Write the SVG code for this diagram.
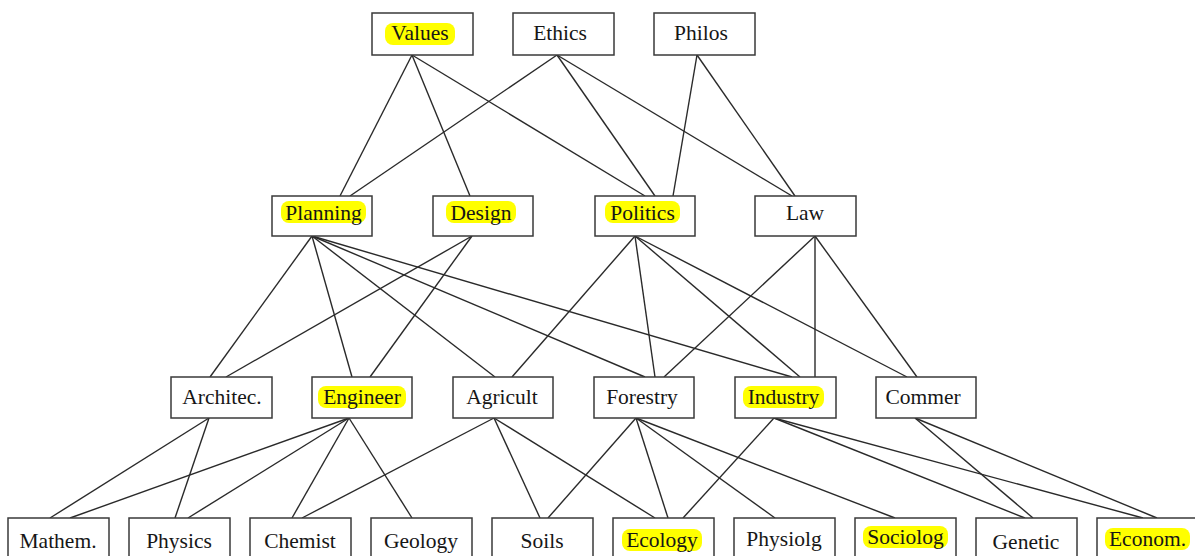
<svg xmlns="http://www.w3.org/2000/svg" width="1195" height="556" viewBox="0 0 1195 556">
<style>
.bg{fill:#ffffff}
.box{fill:#ffffff;stroke:#3a3a3a;stroke-width:1.5}
.hl{fill:#ffff00}
.lbl{font-family:"Liberation Serif","Times New Roman",serif;font-size:21.5px;fill:#161616;text-anchor:middle}
.edges line{stroke:#2a2a2a;stroke-width:1.4}
</style>
<rect class="bg" x="0" y="0" width="1195" height="556"/>
<g id="connectors" class="edges">
<line x1="412" y1="55" x2="340" y2="196"/>
<line x1="412" y1="55" x2="470" y2="196"/>
<line x1="412" y1="55" x2="645" y2="196"/>
<line x1="557" y1="55" x2="350" y2="196"/>
<line x1="557" y1="55" x2="655" y2="196"/>
<line x1="557" y1="55" x2="792" y2="196"/>
<line x1="697" y1="55" x2="673" y2="196"/>
<line x1="697" y1="55" x2="795" y2="196"/>
<line x1="312" y1="236" x2="210" y2="377"/>
<line x1="312" y1="236" x2="352" y2="377"/>
<line x1="312" y1="236" x2="495" y2="377"/>
<line x1="312" y1="236" x2="645" y2="377"/>
<line x1="312" y1="236" x2="792" y2="377"/>
<line x1="472" y1="236" x2="226" y2="377"/>
<line x1="472" y1="236" x2="370" y2="377"/>
<line x1="635" y1="236" x2="512" y2="377"/>
<line x1="635" y1="236" x2="655" y2="377"/>
<line x1="635" y1="236" x2="800" y2="377"/>
<line x1="635" y1="236" x2="907" y2="377"/>
<line x1="815" y1="236" x2="664" y2="377"/>
<line x1="815" y1="236" x2="815" y2="377"/>
<line x1="815" y1="236" x2="917" y2="377"/>
<line x1="209" y1="418" x2="50" y2="518"/>
<line x1="209" y1="418" x2="175" y2="518"/>
<line x1="349" y1="418" x2="70" y2="518"/>
<line x1="349" y1="418" x2="188" y2="518"/>
<line x1="349" y1="418" x2="292" y2="518"/>
<line x1="349" y1="418" x2="412" y2="518"/>
<line x1="494" y1="418" x2="302" y2="518"/>
<line x1="494" y1="418" x2="540" y2="518"/>
<line x1="494" y1="418" x2="655" y2="518"/>
<line x1="636" y1="418" x2="548" y2="518"/>
<line x1="636" y1="418" x2="668" y2="518"/>
<line x1="636" y1="418" x2="775" y2="518"/>
<line x1="636" y1="418" x2="895" y2="518"/>
<line x1="774" y1="418" x2="683" y2="518"/>
<line x1="774" y1="418" x2="1025" y2="518"/>
<line x1="774" y1="418" x2="1143" y2="518"/>
<line x1="915" y1="418" x2="1033" y2="518"/>
<line x1="915" y1="418" x2="1157" y2="518"/>
</g>
<g id="values"><rect class="box" x="372" y="13" width="101" height="42"/><rect class="hl" x="385" y="23" width="70" height="22" rx="8"/><text class="lbl" x="420" y="40">Values</text></g>
<g id="ethics"><rect class="box" x="513" y="13" width="101" height="42"/><text class="lbl" x="560" y="40">Ethics</text></g>
<g id="philos"><rect class="box" x="654" y="13" width="101" height="42"/><text class="lbl" x="701" y="40">Philos</text></g>

<g id="planning"><rect class="box" x="272" y="196" width="100" height="40"/><rect class="hl" x="281" y="201" width="85" height="22" rx="8"/><text class="lbl" x="323.5" y="220">Planning</text></g>
<g id="design"><rect class="box" x="433" y="196" width="100" height="40"/><rect class="hl" x="446" y="201" width="70" height="22" rx="8"/><text class="lbl" x="481" y="220">Design</text></g>
<g id="politics"><rect class="box" x="595" y="196" width="100" height="40"/><rect class="hl" x="605" y="201" width="75" height="22" rx="8"/><text class="lbl" x="642.5" y="220">Politics</text></g>
<g id="law"><rect class="box" x="755" y="196" width="101" height="40"/><text class="lbl" x="805" y="220">Law</text></g>

<g id="architec"><rect class="box" x="171" y="377" width="101" height="41"/><text class="lbl" x="222" y="404">Architec.</text></g>
<g id="engineer"><rect class="box" x="312" y="377" width="100" height="41"/><rect class="hl" x="318" y="386" width="88" height="22" rx="8"/><text class="lbl" x="362" y="404">Engineer</text></g>
<g id="agricult"><rect class="box" x="453" y="377" width="100" height="41"/><text class="lbl" x="502" y="404">Agricult</text></g>
<g id="forestry"><rect class="box" x="594" y="377" width="100" height="41"/><text class="lbl" x="642" y="404">Forestry</text></g>
<g id="industry"><rect class="box" x="735" y="377" width="101" height="41"/><rect class="hl" x="743" y="386" width="81" height="22" rx="8"/><text class="lbl" x="783.5" y="404">Industry</text></g>
<g id="commer"><rect class="box" x="876" y="377" width="100" height="41"/><text class="lbl" x="923" y="404">Commer</text></g>

<g id="mathem"><rect class="box" x="8" y="518" width="101" height="44"/><text class="lbl" x="58" y="548">Mathem.</text></g>
<g id="physics"><rect class="box" x="129" y="518" width="101" height="44"/><text class="lbl" x="179" y="548">Physics</text></g>
<g id="chemist"><rect class="box" x="250" y="518" width="101" height="44"/><text class="lbl" x="300" y="548">Chemist</text></g>
<g id="geology"><rect class="box" x="371" y="518" width="101" height="44"/><text class="lbl" x="421" y="548">Geology</text></g>
<g id="soils"><rect class="box" x="492" y="518" width="101" height="44"/><text class="lbl" x="542" y="548">Soils</text></g>
<g id="ecology"><rect class="box" x="613" y="518" width="101" height="44"/><rect class="hl" x="622" y="529" width="80" height="22" rx="8"/><text class="lbl" x="662" y="547">Ecology</text></g>
<g id="physiolg"><rect class="box" x="734" y="518" width="101" height="44"/><text class="lbl" x="784" y="546">Physiolg</text></g>
<g id="sociolog"><rect class="box" x="855" y="518" width="101" height="44"/><rect class="hl" x="863" y="526" width="85" height="22" rx="8"/><text class="lbl" x="905.5" y="544">Sociolog</text></g>
<g id="genetic"><rect class="box" x="976" y="518" width="101" height="44"/><text class="lbl" x="1026" y="549">Genetic</text></g>
<g id="econom"><rect class="box" x="1097" y="518" width="101" height="44"/><rect class="hl" x="1105" y="528" width="85" height="22" rx="8"/><text class="lbl" x="1147.5" y="546">Econom.</text></g>
</svg>
